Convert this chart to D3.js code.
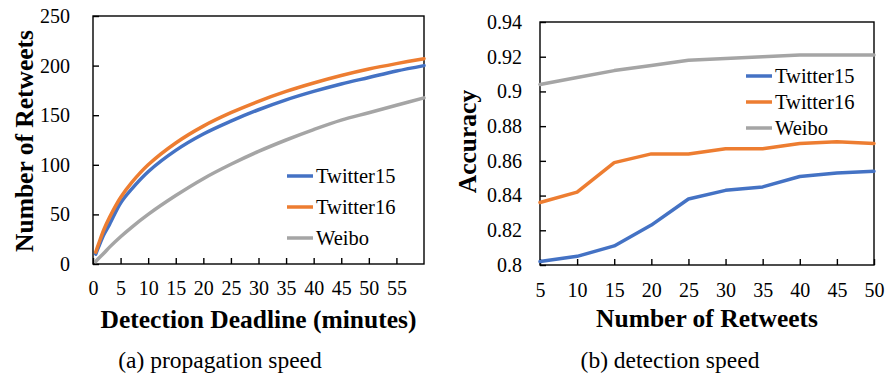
<!DOCTYPE html>
<html>
<head>
<meta charset="utf-8">
<script src="https://cdn.jsdelivr.net/npm/d3@7"></script>
<style>
  body { margin: 0; background: #fff; }
  svg { display: block; }
</style>
</head>
<body>
<div id="chart"></div>
<script>
// (a) propagation speed: average retweets vs detection deadline
const minutes = [0.5, 1, 2, 3, 5, 7, 10, 15, 20, 25, 30, 35, 40, 45, 50, 55, 60];
const twitter15Retweets = [10, 17, 30, 40, 61.5, 75.5, 93, 114.5, 131, 144, 155.5, 165.5, 174, 181.5, 188, 194.5, 200];
const twitter16Retweets = [12, 20, 35, 47, 67, 82, 100, 122, 139, 152.5, 164, 174, 182.5, 190, 196.5, 202, 207];
const weiboRetweets = [2.5, 5.5, 11, 17, 27.5, 37, 50, 69, 86, 100.5, 113.5, 125, 135.5, 145, 152.5, 160, 167.5];
const minuteTicks = [0, 5, 10, 15, 20, 25, 30, 35, 40, 45, 50, 55];
const retweetTicks = [0, 50, 100, 150, 200, 250];

// (b) detection speed: accuracy vs number of retweets
const retweetCounts = [5, 10, 15, 20, 25, 30, 35, 40, 45, 50];
const twitter15Acc = [0.802, 0.805, 0.811, 0.823, 0.838, 0.843, 0.845, 0.851, 0.853, 0.854];
const twitter16Acc = [0.836, 0.842, 0.859, 0.864, 0.864, 0.867, 0.867, 0.870, 0.871, 0.870];
const weiboAcc = [0.904, 0.908, 0.912, 0.915, 0.918, 0.919, 0.920, 0.921, 0.921, 0.921];
const accTicks = [0.80, 0.82, 0.84, 0.86, 0.88, 0.90, 0.92, 0.94];

const seriesNames = ["Twitter15", "Twitter16", "Weibo"];
const seriesColors = ["#4472C4", "#ED7D31", "#A5A5A5"];
const FONT = "'Liberation Serif', 'Times New Roman', Times, serif";

const svg = d3.select("#chart").append("svg")
    .attr("width", 886)
    .attr("height", 373)
    .attr("font-family", FONT);

function drawPanel(p) {
    const x = d3.scaleLinear().domain(p.xDomain).range([p.left, p.right]);
    const y = d3.scaleLinear().domain(p.yDomain).range([p.bottom, p.top]);
    const g = svg.append("g");

    // y axis (inside ticks)
    g.append("g")
        .attr("transform", `translate(${p.left},0)`)
        .call(d3.axisLeft(y).tickValues(p.yTicks).tickFormat(p.yFormat)
            .tickSizeInner(-6).tickSizeOuter(0).tickPadding(p.yPad))
        .attr("font-family", FONT).attr("font-size", 20)
        .call(a => a.select(".domain").remove())
        .call(a => a.selectAll("line").attr("stroke", "#000").attr("stroke-width", 1.4))
        .call(a => a.selectAll("text").attr("fill", "#000"));

    // x axis (inside ticks)
    g.append("g")
        .attr("transform", `translate(0,${p.bottom})`)
        .call(d3.axisBottom(x).tickValues(p.xTicks).tickFormat(d3.format("d"))
            .tickSizeInner(-6).tickSizeOuter(0).tickPadding(p.xPad))
        .attr("font-family", FONT).attr("font-size", 20)
        .call(a => a.select(".domain").remove())
        .call(a => a.selectAll("line").attr("stroke", "#000").attr("stroke-width", 1.4))
        .call(a => a.selectAll("text").attr("fill", "#000"));

    // frame
    g.append("rect")
        .attr("x", p.left).attr("y", p.top)
        .attr("width", p.right - p.left).attr("height", p.bottom - p.top)
        .attr("fill", "none").attr("stroke", "#000").attr("stroke-width", 1.4);

    const line = d3.line()
        .x((d, i) => x(p.xs[i]))
        .y(d => y(d))
        .curve(p.curve);

    p.series.forEach((s, i) => {
        g.append("path")
            .datum(s)
            .attr("d", line)
            .attr("fill", "none")
            .attr("stroke", seriesColors[i])
            .attr("stroke-width", 3.5)
            .attr("stroke-linejoin", "round")
            .attr("stroke-linecap", "round");
    });

    // legend
    const lg = g.append("g");
    seriesNames.forEach((name, i) => {
        const ly = p.legendY + i * p.legendStep;
        lg.append("line")
            .attr("x1", p.legendX).attr("x2", p.legendX + 26)
            .attr("y1", ly).attr("y2", ly)
            .attr("stroke", seriesColors[i]).attr("stroke-width", 3.5);
        lg.append("text")
            .attr("x", p.legendX + 29).attr("y", ly)
            .attr("dy", "0.35em")
            .attr("font-family", FONT)
            .attr("font-size", 20.5)
            .text(name);
    });

    // axis titles
    g.append("text")
        .attr("x", (p.left + p.right) / 2).attr("y", p.xTitleY)
        .attr("text-anchor", "middle")
        .attr("font-family", FONT)
        .attr("font-size", 25.5).attr("font-weight", "bold")
        .text(p.xTitle);
    g.append("text")
        .attr("transform", `translate(${p.yTitleX},${p.yTitleCenter}) rotate(-90)`)
        .attr("text-anchor", "middle")
        .attr("font-family", FONT)
        .attr("font-size", 25.5).attr("font-weight", "bold")
        .text(p.yTitle);

    // caption
    g.append("text")
        .attr("x", p.captionX).attr("y", 368)
        .attr("text-anchor", "middle")
        .attr("font-family", FONT)
        .attr("font-size", 23.5)
        .text(p.caption);
}

drawPanel({
    left: 93, right: 424, top: 16, bottom: 264,
    xDomain: [0, 60], yDomain: [0, 250],
    xTicks: minuteTicks, yTicks: retweetTicks,
    yFormat: d3.format("d"), yPad: 23, xPad: 17,
    xs: minutes,
    series: [twitter15Retweets, twitter16Retweets, weiboRetweets],
    curve: d3.curveCatmullRom.alpha(0.5),
    legendX: 287, legendY: 176, legendStep: 31,
    xTitle: "Detection Deadline (minutes)", xTitleY: 328,
    yTitle: "Number of Retweets", yTitleX: 33, yTitleCenter: 141,
    caption: "(a) propagation speed", captionX: 220
});

drawPanel({
    left: 540, right: 874, top: 22, bottom: 265,
    xDomain: [5, 50], yDomain: [0.8, 0.94],
    xTicks: retweetCounts, yTicks: accTicks,
    yFormat: d => String(+d.toFixed(2)), yPad: 18, xPad: 17.5,
    xs: retweetCounts,
    series: [twitter15Acc, twitter16Acc, weiboAcc],
    curve: d3.curveLinear,
    legendX: 746, legendY: 76, legendStep: 26,
    xTitle: "Number of Retweets", xTitleY: 327,
    yTitle: "Accuracy", yTitleX: 476, yTitleCenter: 141.5,
    caption: "(b) detection speed", captionX: 670
});
</script>
</body>
</html>
